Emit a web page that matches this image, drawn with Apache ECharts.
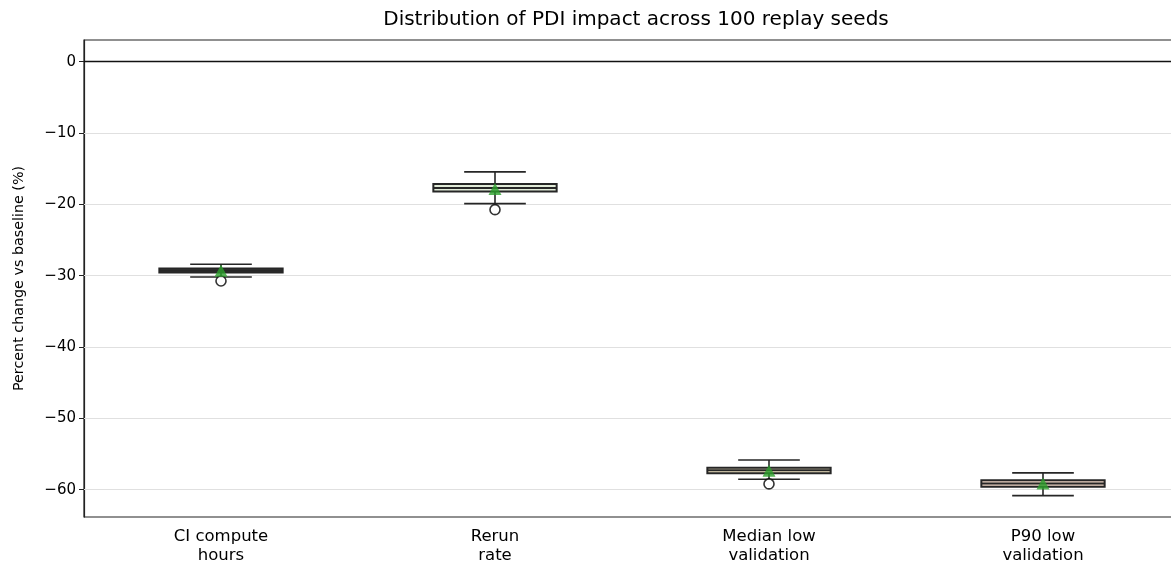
<!DOCTYPE html>
<html>
<head>
<meta charset="utf-8">
<script src="https://cdn.jsdelivr.net/npm/echarts@6/dist/echarts.min.js"></script>
<style>html,body{margin:0;padding:0;background:#fff}#c{width:1171px;height:565px}</style>
</head>
<body>
<div id="c"></div>
<script>
const categories = ['CI compute\nhours', 'Rerun\nrate', 'Median low\nvalidation', 'P90 low\nvalidation'];
const whiskerLow  = [-30.2, -19.9, -58.55, -60.85];
const q1          = [-29.55, -18.2, -57.7, -59.6];
const median      = [-29.3, -17.7, -57.3, -59.15];
const q3          = [-29.0, -17.15, -56.95, -58.7];
const whiskerHigh = [-28.4, -15.45, -55.85, -57.65];
const means       = [-29.3, -17.85, -57.35, -59.15];
const outlierCat  = [0, 1, 2];
const outlierVal  = [-30.75, -20.75, -59.2];
const yTicks      = [0, -10, -20, -30, -40, -50, -60];
const boxFills    = ['#3c3c3c', '#e1ebd8', '#f3e7c6', '#efd6c6'];

const BOX_W = 0.45;
const EDGE = '#262626';
const FONT = 'DejaVu Sans';

const boxData = categories.map((c, i) => [i, whiskerLow[i], q1[i], median[i], q3[i], whiskerHigh[i]]);
const meanData = categories.map((c, i) => [i, means[i]]);
const outlierData = outlierCat.map((c, k) => [c, outlierVal[k]]);

const chart = echarts.init(document.getElementById('c'), null, {renderer: 'canvas'});
chart.setOption({
  animation: false,
  backgroundColor: '#fff',
  title: {
    text: 'Distribution of PDI impact across 100 replay seeds',
    left: 631, top: 5, textAlign: 'center',
    textStyle: {fontFamily: FONT, fontSize: 20, fontWeight: 'normal', color: '#000'}
  },
  grid: {left: 84, width: 1096, top: 40, height: 477, containLabel: false, outerBoundsMode: 'none',
    show: true, borderColor: '#222', borderWidth: 1.2, backgroundColor: 'transparent'},
  xAxis: {
    type: 'category',
    data: categories,
    boundaryGap: true,
    axisLine: {lineStyle: {color: '#222', width: 1.2}},
    axisTick: {alignWithLabel: true, length: 5, lineStyle: {color: '#222'}},
    axisLabel: {fontFamily: FONT, fontSize: 16.5, color: '#000', margin: 10, lineHeight: 19},
    splitLine: {show: false}
  },
  yAxis: {
    type: 'value',
    min: -63.84, max: 3.04,
    name: 'Percent change vs baseline (%)',
    nameLocation: 'middle', nameGap: 58,
    nameTextStyle: {fontFamily: FONT, fontSize: 14.3, color: '#000'},
    axisLine: {show: true, lineStyle: {color: '#222', width: 1.2}},
    axisTick: {show: true, length: 5, customValues: yTicks, lineStyle: {color: '#222'}},
    axisLabel: {
      fontFamily: FONT, fontSize: 15, color: '#000', margin: 8,
      customValues: yTicks,
      formatter: v => String(Math.round(v)).replace('-', '\u2212')
    },
    splitLine: {show: false}
  },
  series: [
    {
      type: 'custom',
      data: boxData,
      encode: {x: 0, y: [1, 2, 3, 4, 5]},
      z: 3,
      renderItem: (params, api) => {
        const i = api.value(0);
        const cx = api.coord([i, 0])[0];
        const band = api.size([1, 0])[0];
        const bw = band * BOX_W;
        const cw = bw / 2;
        const y = v => api.coord([i, v])[1];
        const lo = y(api.value(1)), b1 = y(api.value(2)), md = y(api.value(3)), b3 = y(api.value(4)), hi = y(api.value(5));
        const ls = {stroke: EDGE, lineWidth: 1.6, fill: null};
        return {
          type: 'group',
          children: [
            {type: 'line', shape: {x1: cx, y1: b1, x2: cx, y2: lo}, style: ls},
            {type: 'line', shape: {x1: cx, y1: b3, x2: cx, y2: hi}, style: ls},
            {type: 'line', shape: {x1: cx - cw / 2, y1: lo, x2: cx + cw / 2, y2: lo}, style: ls},
            {type: 'line', shape: {x1: cx - cw / 2, y1: hi, x2: cx + cw / 2, y2: hi}, style: ls},
            {type: 'rect', shape: {x: cx - bw / 2, y: b3, width: bw, height: b1 - b3},
              style: {fill: boxFills[i], stroke: EDGE, lineWidth: 2}},
            {type: 'line', shape: {x1: cx - bw / 2, y1: md, x2: cx + bw / 2, y2: md}, style: {stroke: EDGE, lineWidth: 2}}
          ]
        };
      },
      markLine: {
        silent: true, symbol: 'none', label: {show: false},
        data: yTicks.filter(v => v !== 0).map(v => ({yAxis: v, lineStyle: {color: '#e0e0e0', width: 1, type: 'solid'}}))
          .concat([{yAxis: 0, lineStyle: {color: '#111', width: 1.3, type: 'solid'}}]),
        z: 1
      }
    },
    {
      type: 'scatter',
      data: outlierData,
      symbol: 'circle', symbolSize: 10,
      itemStyle: {color: '#fff', borderColor: '#000', borderWidth: 1.6},
      z: 4
    },
    {
      type: 'scatter',
      data: meanData,
      symbol: 'triangle', symbolSize: [13, 12],
      itemStyle: {color: '#2ca02c'},
      z: 5
    }
  ]
});
</script>
</body>
</html>
